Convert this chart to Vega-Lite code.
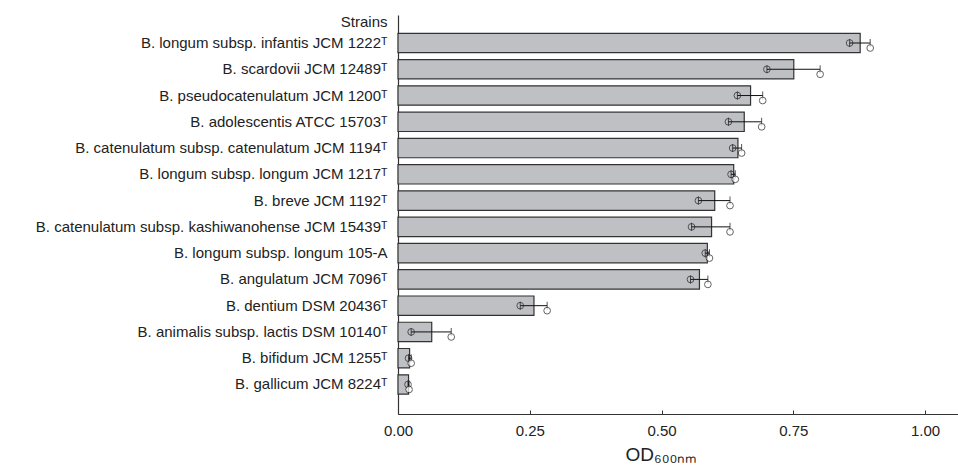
{
  "$schema": "https://vega.github.io/schema/vega-lite/v6.json",
  "autosize": {"type": "none"},
  "width": 560,
  "height": 399,
  "padding": {"left": 398, "top": 15, "right": 0, "bottom": 57},
  "background": "white",
  "config": {
    "view": {"stroke": null},
    "font": "Liberation Sans",
    "axis": {"labelFont": "Liberation Sans", "titleFont": "Liberation Sans", "domainColor": "#333333", "domainWidth": 1.2, "grid": false}
  },
  "datasets": {
    "bars": [
      {"strain": "B. longum subsp. infantis JCM 1222ᵀ", "od": 0.877, "lo": 0.857, "hi": 0.896},
      {"strain": "B. scardovii JCM 12489ᵀ", "od": 0.751, "lo": 0.700, "hi": 0.801},
      {"strain": "B. pseudocatenulatum JCM 1200ᵀ", "od": 0.669, "lo": 0.644, "hi": 0.692},
      {"strain": "B. adolescentis ATCC 15703ᵀ", "od": 0.657, "lo": 0.627, "hi": 0.690},
      {"strain": "B. catenulatum subsp. catenulatum JCM 1194ᵀ", "od": 0.645, "lo": 0.635, "hi": 0.652},
      {"strain": "B. longum subsp. longum JCM 1217ᵀ", "od": 0.637, "lo": 0.632, "hi": 0.640},
      {"strain": "B. breve JCM 1192ᵀ", "od": 0.601, "lo": 0.570, "hi": 0.630},
      {"strain": "B. catenulatum subsp. kashiwanohense JCM 15439ᵀ", "od": 0.595, "lo": 0.557, "hi": 0.630},
      {"strain": "B. longum subsp. longum 105-A", "od": 0.587, "lo": 0.583, "hi": 0.591},
      {"strain": "B. angulatum JCM 7096ᵀ", "od": 0.572, "lo": 0.555, "hi": 0.588},
      {"strain": "B. dentium DSM 20436ᵀ", "od": 0.258, "lo": 0.232, "hi": 0.283},
      {"strain": "B. animalis subsp. lactis DSM 10140ᵀ", "od": 0.064, "lo": 0.025, "hi": 0.101},
      {"strain": "B. bifidum JCM 1255ᵀ", "od": 0.022, "lo": 0.020, "hi": 0.025},
      {"strain": "B. gallicum JCM 8224ᵀ", "od": 0.020, "lo": 0.019, "hi": 0.021}
    ],
    "reps": [
      {"strain": "B. longum subsp. infantis JCM 1222ᵀ", "rep": 1, "value": 0.857},
      {"strain": "B. longum subsp. infantis JCM 1222ᵀ", "rep": 2, "value": 0.896},
      {"strain": "B. scardovii JCM 12489ᵀ", "rep": 1, "value": 0.700},
      {"strain": "B. scardovii JCM 12489ᵀ", "rep": 2, "value": 0.801},
      {"strain": "B. pseudocatenulatum JCM 1200ᵀ", "rep": 1, "value": 0.644},
      {"strain": "B. pseudocatenulatum JCM 1200ᵀ", "rep": 2, "value": 0.692},
      {"strain": "B. adolescentis ATCC 15703ᵀ", "rep": 1, "value": 0.627},
      {"strain": "B. adolescentis ATCC 15703ᵀ", "rep": 2, "value": 0.690},
      {"strain": "B. catenulatum subsp. catenulatum JCM 1194ᵀ", "rep": 1, "value": 0.635},
      {"strain": "B. catenulatum subsp. catenulatum JCM 1194ᵀ", "rep": 2, "value": 0.652},
      {"strain": "B. longum subsp. longum JCM 1217ᵀ", "rep": 1, "value": 0.632},
      {"strain": "B. longum subsp. longum JCM 1217ᵀ", "rep": 2, "value": 0.640},
      {"strain": "B. breve JCM 1192ᵀ", "rep": 1, "value": 0.570},
      {"strain": "B. breve JCM 1192ᵀ", "rep": 2, "value": 0.630},
      {"strain": "B. catenulatum subsp. kashiwanohense JCM 15439ᵀ", "rep": 1, "value": 0.557},
      {"strain": "B. catenulatum subsp. kashiwanohense JCM 15439ᵀ", "rep": 2, "value": 0.630},
      {"strain": "B. longum subsp. longum 105-A", "rep": 1, "value": 0.583},
      {"strain": "B. longum subsp. longum 105-A", "rep": 2, "value": 0.591},
      {"strain": "B. angulatum JCM 7096ᵀ", "rep": 1, "value": 0.555},
      {"strain": "B. angulatum JCM 7096ᵀ", "rep": 2, "value": 0.588},
      {"strain": "B. dentium DSM 20436ᵀ", "rep": 1, "value": 0.232},
      {"strain": "B. dentium DSM 20436ᵀ", "rep": 2, "value": 0.283},
      {"strain": "B. animalis subsp. lactis DSM 10140ᵀ", "rep": 1, "value": 0.025},
      {"strain": "B. animalis subsp. lactis DSM 10140ᵀ", "rep": 2, "value": 0.101},
      {"strain": "B. bifidum JCM 1255ᵀ", "rep": 1, "value": 0.020},
      {"strain": "B. bifidum JCM 1255ᵀ", "rep": 2, "value": 0.025},
      {"strain": "B. gallicum JCM 8224ᵀ", "rep": 1, "value": 0.019},
      {"strain": "B. gallicum JCM 8224ᵀ", "rep": 2, "value": 0.021}
    ]
  },
  "encoding": {
    "y": {
      "field": "strain",
      "type": "nominal",
      "scale": {
        "domain": [
          "B. longum subsp. infantis JCM 1222ᵀ",
          "B. scardovii JCM 12489ᵀ",
          "B. pseudocatenulatum JCM 1200ᵀ",
          "B. adolescentis ATCC 15703ᵀ",
          "B. catenulatum subsp. catenulatum JCM 1194ᵀ",
          "B. longum subsp. longum JCM 1217ᵀ",
          "B. breve JCM 1192ᵀ",
          "B. catenulatum subsp. kashiwanohense JCM 15439ᵀ",
          "B. longum subsp. longum 105-A",
          "B. angulatum JCM 7096ᵀ",
          "B. dentium DSM 20436ᵀ",
          "B. animalis subsp. lactis DSM 10140ᵀ",
          "B. bifidum JCM 1255ᵀ",
          "B. gallicum JCM 8224ᵀ"
        ],
        "paddingInner": 0.263,
        "paddingOuter": 0.727,
        "align": 0.48
      },
      "axis": {
        "title": "Strains",
        "titleAngle": 0,
        "titleAlign": "right",
        "titleBaseline": "middle",
        "titleX": -11,
        "titleY": 6,
        "titleFontSize": 15,
        "titleFontWeight": "normal",
        "titleColor": "#222222",
        "labelFontSize": 15,
        "labelColor": "#222222",
        "labelPadding": 11,
        "labelLimit": 500,
        "ticks": false
      }
    }
  },
  "layer": [
    {
      "data": {"name": "bars"},
      "mark": {"type": "bar", "fill": "#bfc0c4", "stroke": "#333333", "strokeWidth": 1.2},
      "encoding": {
        "x": {
          "field": "od",
          "type": "quantitative",
          "scale": {"domain": [0, 1.0626], "nice": false},
          "axis": {
            "title": "OD₆₀₀ₙₘ",
            "titleFontSize": 19,
            "titleFontWeight": "normal",
            "titleColor": "#222222",
            "titleX": 263,
            "titleY": 40,
            "titleBaseline": "middle",
            "values": [0, 0.25, 0.5, 0.75, 1],
            "format": ".2f",
            "labelFlush": false,
            "labelFontSize": 15,
            "labelColor": "#222222",
            "tickSize": -4,
            "tickColor": "#333333",
            "labelPadding": 13
          }
        }
      }
    },
    {
      "data": {"name": "bars"},
      "mark": {"type": "rule", "color": "#111111", "strokeWidth": 1},
      "encoding": {
        "x": {"field": "lo", "type": "quantitative"},
        "x2": {"field": "hi"}
      }
    },
    {
      "data": {"name": "bars"},
      "mark": {"type": "tick", "orient": "vertical", "color": "#111111", "thickness": 1, "size": 8},
      "encoding": {
        "x": {"field": "lo", "type": "quantitative"}
      }
    },
    {
      "data": {"name": "bars"},
      "mark": {"type": "tick", "orient": "vertical", "color": "#111111", "thickness": 1, "size": 8},
      "encoding": {
        "x": {"field": "hi", "type": "quantitative"}
      }
    },
    {
      "data": {"name": "reps"},
      "transform": [{"filter": "datum.rep == 1"}],
      "mark": {"type": "point", "shape": "circle", "filled": false, "stroke": "#222222", "strokeWidth": 1, "size": 45},
      "encoding": {
        "x": {"field": "value", "type": "quantitative"}
      }
    },
    {
      "data": {"name": "reps"},
      "transform": [{"filter": "datum.rep == 2"}],
      "mark": {"type": "point", "shape": "circle", "filled": true, "fill": "white", "stroke": "#222222", "strokeWidth": 1, "size": 45, "yOffset": 5},
      "encoding": {
        "x": {"field": "value", "type": "quantitative"}
      }
    }
  ]
}
